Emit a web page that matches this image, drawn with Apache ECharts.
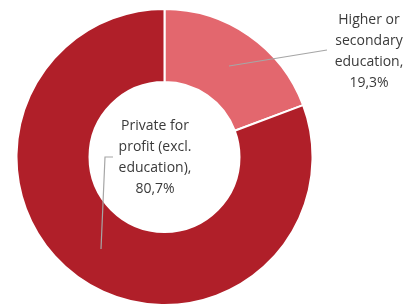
<!DOCTYPE html>
<html>
<head>
<meta charset="utf-8">
<script src="https://cdn.jsdelivr.net/npm/echarts@6/dist/echarts.min.js"></script>
<style>
  html, body { margin: 0; padding: 0; background: #fff; }
  #chart { width: 408px; height: 305px; }
</style>
</head>
<body>
<div id="chart"></div>
<script>
/* ================================
   DATA
================================ */
const categories = ["Higher or\nsecondary\neducation", "Private for\nprofit (excl.\neducation)"];
const shares     = [19.3, 80.7];
const colors     = ["#E3676E", "#B01F29"];

/* ================================
   LABEL PLACEMENT
================================ */
const labelSpots = [
  { x: 369, y: 52,  line: [[229, 66], [327, 50], [327, 50]] },
  { x: 155, y: 158, line: [[101, 249], [105, 157], [113, 157]] }
];

const chart = echarts.init(document.getElementById("chart"));

const base = {
  type: "pie",
  center: [164.5, 157],
  radius: [75, 148],
  startAngle: 90,
  clockwise: true,
  silent: true
};

chart.setOption({
  animation: false,
  series: [
    // the ring itself
    Object.assign({}, base, {
      z: 2,
      itemStyle: { borderColor: "#fff", borderWidth: 2 },
      label: { show: false },
      labelLine: { show: false },
      data: categories.map((c, i) => ({
        name: c, value: shares[i], itemStyle: { color: colors[i] }
      }))
    }),
    // invisible copy on top, carries labels and leader lines
    Object.assign({}, base, {
      z: 5,
      itemStyle: { color: "rgba(0,0,0,0)", borderWidth: 0 },
      label: {
        show: true,
        position: "outside",
        alignTo: "none",
        overflow: "none",
        width: 120,
        color: "#3A3A3A",
        fontFamily: "Open Sans",
        fontSize: 14,
        lineHeight: 21,
        align: "center",
        formatter: p => p.name + ",\n" + p.value.toFixed(1).replace(".", ",") + "%"
      },
      labelLine: {
        show: true,
        lineStyle: { color: "#A6A6A6", width: 1.2 }
      },
      labelLayout: params => {
        const s = labelSpots[params.dataIndex];
        return {
          x: s.x, y: s.y,
          align: "center", verticalAlign: "middle",
          labelLinePoints: s.line
        };
      },
      data: categories.map((c, i) => ({ name: c, value: shares[i] }))
    })
  ]
});
</script>
</body>
</html>
